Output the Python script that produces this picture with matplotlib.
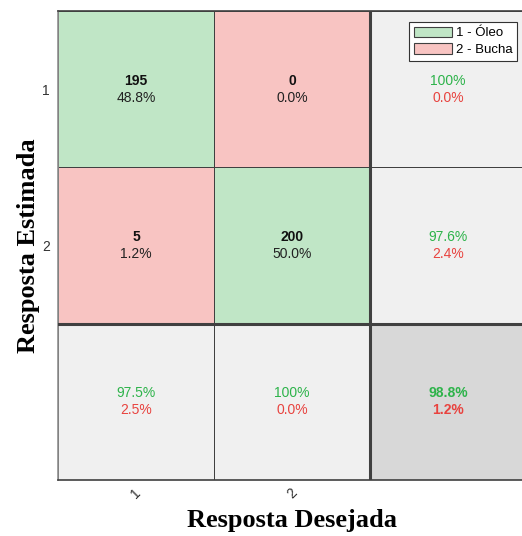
import numpy as np
import matplotlib.pyplot as plt
from matplotlib.colors import ListedColormap
from matplotlib.patches import Patch

# Confusion matrix: rows = estimated class, columns = desired class
classes = ["1", "2"]
legend_names = ["1 - Óleo", "2 - Bucha"]
counts = np.array([[195, 0],
                   [5, 200]])

GREEN = "#c0e6c6"
RED = "#f8c4c2"
GRAY = "#f0f0f0"
DGRAY = "#d8d8d8"
TXT_G = "#2db34a"
TXT_R = "#e8433f"
LINE = "#404040"

n = len(classes)
total = counts.sum()


def pct(v):
    if abs(v - 100) < 1e-9:
        return "100%"
    return f"{v:.1f}%"


# Color index grid including the summary row/column
idx = np.zeros((n + 1, n + 1), dtype=int)
for i in range(n + 1):
    for j in range(n + 1):
        if i < n and j < n:
            idx[i, j] = 0 if i == j else 1
        elif i == n and j == n:
            idx[i, j] = 3
        else:
            idx[i, j] = 2
cmap = ListedColormap([GREEN, RED, GRAY, DGRAY])

W, H = 522, 536
fig = plt.figure(figsize=(W / 100, H / 100), dpi=100)
ax = fig.add_axes([58 / W, (H - 480) / H, 468 / W, 469 / H])

ax.pcolormesh(np.arange(n + 2), np.arange(n + 2), idx, cmap=cmap,
              vmin=-0.5, vmax=3.5, edgecolors=LINE, linewidth=0.7)
ax.set_xlim(0, n + 1)
ax.set_ylim(n + 1, 0)

# Heavier separators around the summary row and column
ax.axvline(n, color=LINE, lw=2.2, zorder=3)
ax.axhline(n, color=LINE, lw=2.2, zorder=3)

dy = 0.055
font = "Liberation Sans"
for i in range(n):
    for j in range(n):
        c = counts[i, j]
        ax.text(j + 0.5, i + 0.5 - dy, f"{c}", ha="center", va="center",
                fontsize=10, fontweight="bold", family=font, color="#111111")
        ax.text(j + 0.5, i + 0.5 + dy, pct(100 * c / total), ha="center",
                va="center", fontsize=10, family=font, color="#222222")

# Row summaries (precision)
for i in range(n):
    r = counts[i].sum()
    good = 100 * counts[i, i] / r
    ax.text(n + 0.5, i + 0.5 - dy, pct(good), ha="center", va="center",
            fontsize=10, family=font, color=TXT_G)
    ax.text(n + 0.5, i + 0.5 + dy, pct(100 - good), ha="center", va="center",
            fontsize=10, family=font, color=TXT_R)

# Column summaries (recall)
for j in range(n):
    cs = counts[:, j].sum()
    good = 100 * counts[j, j] / cs
    ax.text(j + 0.5, n + 0.5 - dy, pct(good), ha="center", va="center",
            fontsize=10, family=font, color=TXT_G)
    ax.text(j + 0.5, n + 0.5 + dy, pct(100 - good), ha="center", va="center",
            fontsize=10, family=font, color=TXT_R)

# Overall accuracy
acc = 100 * np.trace(counts) / total
ax.text(n + 0.5, n + 0.5 - dy, pct(acc), ha="center", va="center",
        fontsize=10, fontweight="bold", family=font, color=TXT_G)
ax.text(n + 0.5, n + 0.5 + dy, pct(100 - acc), ha="center", va="center",
        fontsize=10, fontweight="bold", family=font, color=TXT_R)

ax.set_xticks(np.arange(n) + 0.5)
ax.set_xticklabels(classes, rotation=45, family=font, fontsize=10,
                   color="#333333")
ax.set_yticks(np.arange(n) + 0.5)
ax.set_yticklabels(classes, family=font, fontsize=10, color="#333333")
ax.tick_params(axis="y", length=0, pad=6)
ax.tick_params(axis="x", length=0, pad=4)

for s in ax.spines.values():
    s.set_color(LINE)
    s.set_linewidth(1.2)
ax.spines["left"].set_color("#909090")

ax.set_xlabel("Resposta Desejada", family="Liberation Serif",
              fontweight="bold", fontsize=19)
ax.xaxis.set_label_coords((292 - 58) / 468, (480 - 520) / 469)
ax.xaxis.label.set_va("center")
ax.set_ylabel("Resposta Estimada", family="Liberation Serif",
              fontweight="bold", fontsize=19)
ax.yaxis.set_label_coords((28 - 58) / 468, (480 - 246) / 469)
ax.yaxis.label.set_va("center")

handles = [Patch(facecolor=GREEN, edgecolor=LINE, lw=0.8),
           Patch(facecolor=RED, edgecolor=LINE, lw=0.8)]
leg = ax.legend(handles, legend_names, loc="upper right",
                bbox_to_anchor=(517 / W, (H - 22) / H),
                bbox_transform=fig.transFigure, fancybox=False,
                framealpha=1, edgecolor="#333333",
                prop={"family": font, "size": 9.5},
                handlelength=2.9, handleheight=0.85, handletextpad=0.3,
                borderpad=0.35, labelspacing=0.3, borderaxespad=0)
leg.get_frame().set_linewidth(0.8)

fig.savefig("out.png", dpi=100)
